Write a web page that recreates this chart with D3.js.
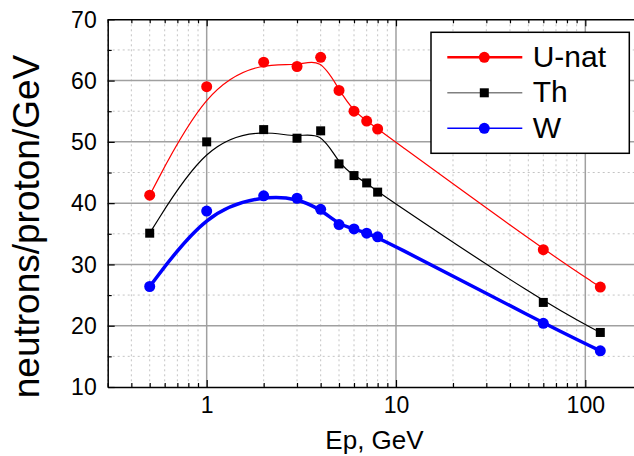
<!DOCTYPE html>
<html>
<head>
<meta charset="utf-8">
<script src="https://cdn.jsdelivr.net/npm/d3@7"></script>
<style>
  body { margin: 0; background: #fff; }
  svg { display: block; font-family: "Liberation Sans", Arial, sans-serif; }
</style>
</head>
<body>
<div id="chart"></div>
<script>
// proton energy, GeV
const energy = [0.5, 1, 2, 3, 4, 5, 6, 7, 8, 60, 120];
const uNat = [41.3, 59.0, 63.0, 62.3, 63.8, 58.4, 55.0, 53.4, 52.1, 32.4, 26.3];
const thorium = [35.1, 50.0, 52.0, 50.6, 51.8, 46.4, 44.5, 43.3, 41.8, 23.8, 18.9];
const tungsten = [26.4, 38.7, 41.2, 40.8, 39.0, 36.5, 35.8, 35.1, 34.5, 20.4, 15.9];

const seriesNames = ['U-nat', 'Th', 'W'];
const xMajorTicks = [1, 10, 100];
const yMajorTicks = [10, 20, 30, 40, 50, 60, 70];
const yMinorTicks = [15, 25, 35, 45, 55, 65];

const width = 634;
const height = 456;

const x = d3.scaleLog().domain([0.3, 200]).range([107.7, 642.3]);
const y = d3.scaleLinear().domain([10, 70]).range([387, 19.3]);

const xMinorTicks = x.ticks().filter(t => !xMajorTicks.includes(t));

const series = [
  { name: seriesNames[0], values: uNat, color: '#ff0000', width: 1.2, marker: 'circle',
    legendColor: '#ff0000', legendWidth: 2.5 },
  { name: seriesNames[1], values: thorium, color: '#000000', width: 1.2, marker: 'square',
    legendColor: '#808080', legendWidth: 1.5 },
  { name: seriesNames[2], values: tungsten, color: '#0000ff', width: 3.5, marker: 'circle',
    legendColor: '#0000ff', legendWidth: 1.5 }
];

const svg = d3
  .select('#chart')
  .append('svg')
  .attr('width', width)
  .attr('height', height);

const [x0, x1] = x.range();
const [y0, y1] = y.range();

// grid
const grid = svg.append('g');

grid
  .selectAll('.xminor')
  .data(xMinorTicks)
  .join('line')
  .attr('x1', d => x(d))
  .attr('x2', d => x(d))
  .attr('y1', y1)
  .attr('y2', y0)
  .attr('stroke', '#c4c4c4')
  .attr('stroke-width', 1)
  .attr('stroke-dasharray', '2,3');

grid
  .selectAll('.yminor')
  .data(yMinorTicks)
  .join('line')
  .attr('x1', x0)
  .attr('x2', x1)
  .attr('y1', d => y(d))
  .attr('y2', d => y(d))
  .attr('stroke', '#c4c4c4')
  .attr('stroke-width', 1)
  .attr('stroke-dasharray', '2,3');

grid
  .selectAll('.xmajor')
  .data(xMajorTicks)
  .join('line')
  .attr('x1', d => x(d))
  .attr('x2', d => x(d))
  .attr('y1', y1)
  .attr('y2', y0)
  .attr('stroke', '#a0a0a0')
  .attr('stroke-width', 1.5);

grid
  .selectAll('.ymajor')
  .data(yMajorTicks.slice(1, -1))
  .join('line')
  .attr('x1', x0)
  .attr('x2', x1)
  .attr('y1', d => y(d))
  .attr('y2', d => y(d))
  .attr('stroke', '#a0a0a0')
  .attr('stroke-width', 1.5);

// curves and markers
const line = d3
  .line()
  .x(d => x(d[0]))
  .y(d => y(d[1]))
  .curve(d3.curveBasis);

series.forEach(s => {
  const pts = energy.map((e, i) => [e, s.values[i]]);

  svg
    .append('path')
    .attr('d', line(pts))
    .attr('fill', 'none')
    .attr('stroke', s.color)
    .attr('stroke-width', s.width);

  if (s.marker === 'circle') {
    svg
      .append('g')
      .selectAll('circle')
      .data(pts)
      .join('circle')
      .attr('cx', d => x(d[0]))
      .attr('cy', d => y(d[1]))
      .attr('r', 5.5)
      .attr('fill', s.color);
  } else {
    svg
      .append('g')
      .selectAll('rect')
      .data(pts)
      .join('rect')
      .attr('x', d => x(d[0]) - 4.5)
      .attr('y', d => y(d[1]) - 4.5)
      .attr('width', 9)
      .attr('height', 9)
      .attr('fill', s.color);
  }
});

// axes (ticks inside)
const styleAxis = g => {
  g.select('.domain').attr('stroke', '#000').attr('stroke-width', 1.5);
  g.selectAll('.tick line').attr('stroke', '#000').attr('stroke-width', 1.2);
};

svg
  .append('g')
  .attr('transform', `translate(0, ${y0})`)
  .call(d3.axisBottom(x).tickValues(xMinorTicks).tickSize(-4).tickFormat('').tickSizeOuter(0))
  .call(styleAxis);

svg
  .append('g')
  .attr('transform', `translate(0, ${y0})`)
  .call(d3.axisBottom(x).tickValues(xMajorTicks).tickSize(-7).tickSizeOuter(0).tickFormat(d3.format('d')))
  .call(styleAxis)
  .call(g => g.select('.domain').remove())
  .call(g =>
    g
      .selectAll('.tick text')
      .attr('y', 10)
      .attr('dy', '0.71em')
      .attr('fill', '#000')
      .style('font-size', '23px')
  );

svg
  .append('g')
  .attr('transform', `translate(0, ${y1})`)
  .call(d3.axisTop(x).tickValues(xMinorTicks).tickSize(-4).tickFormat('').tickSizeOuter(0))
  .call(styleAxis);

svg
  .append('g')
  .attr('transform', `translate(0, ${y1})`)
  .call(d3.axisTop(x).tickValues(xMajorTicks).tickSize(-7).tickFormat('').tickSizeOuter(0))
  .call(styleAxis)
  .call(g => g.select('.domain').remove());

svg
  .append('g')
  .attr('transform', `translate(${x0}, 0)`)
  .call(d3.axisLeft(y).tickValues(yMinorTicks).tickSize(-4).tickFormat('').tickSizeOuter(0))
  .call(styleAxis);

svg
  .append('g')
  .attr('transform', `translate(${x0}, 0)`)
  .call(d3.axisLeft(y).tickValues(yMajorTicks).tickSize(-7).tickSizeOuter(0))
  .call(styleAxis)
  .call(g => g.select('.domain').remove())
  .call(g =>
    g
      .selectAll('.tick text')
      .attr('x', -11)
      .attr('dy', '0.34em')
      .attr('fill', '#000')
      .style('font-size', '23px')
  );

// axis titles
svg
  .append('text')
  .attr('x', 374.5)
  .attr('y', 449)
  .attr('text-anchor', 'middle')
  .style('font-size', '26px')
  .text('Ep, GeV');

svg
  .append('text')
  .attr('transform', 'translate(38.5, 226.5) rotate(-90)')
  .attr('text-anchor', 'middle')
  .style('font-size', '37px')
  .text('neutrons/proton/GeV');

// legend
const legend = svg.append('g').attr('transform', 'translate(431, 32.3)');

legend
  .append('rect')
  .attr('width', 198.3)
  .attr('height', 121)
  .attr('fill', '#fff')
  .attr('stroke', '#000')
  .attr('stroke-width', 1.5);

const rowY = d3.scaleLinear().domain([0, 2]).range([25, 96]);

series.forEach((s, i) => {
  const row = legend.append('g').attr('transform', `translate(0, ${rowY(i)})`);

  row
    .append('line')
    .attr('x1', 16.3)
    .attr('x2', 91.3)
    .attr('stroke', s.legendColor)
    .attr('stroke-width', s.legendWidth);

  if (s.marker === 'circle') {
    row.append('circle').attr('cx', 53.3).attr('r', 5.5).attr('fill', s.color);
  } else {
    row
      .append('rect')
      .attr('x', 48.8)
      .attr('y', -4.5)
      .attr('width', 9)
      .attr('height', 9)
      .attr('fill', s.color);
  }

  row
    .append('text')
    .attr('x', 101.7)
    .attr('dy', '0.32em')
    .style('font-size', '30px')
    .text(s.name);
});
</script>
</body>
</html>
